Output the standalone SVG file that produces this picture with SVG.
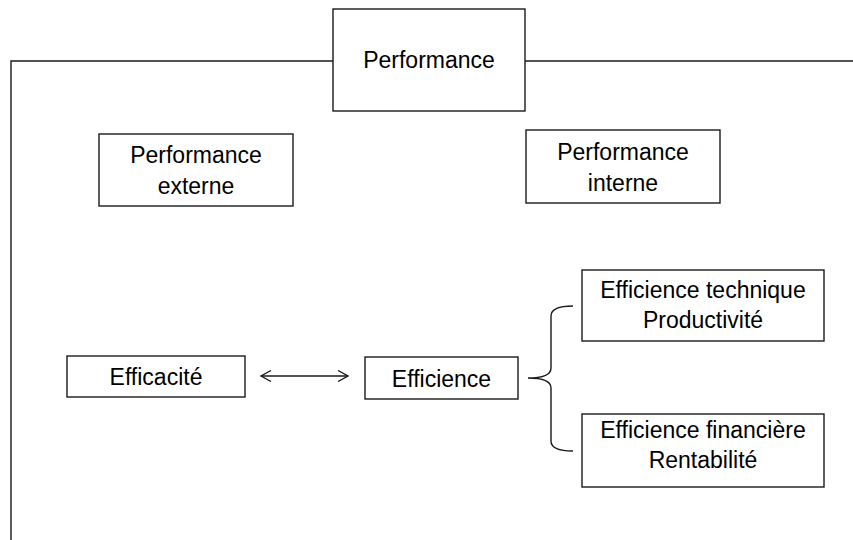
<svg xmlns="http://www.w3.org/2000/svg" width="853" height="540" viewBox="0 0 853 540">
<defs>
<style>
.box{fill:#fff;stroke:#1a1a1a;stroke-width:1.4}
.ln{fill:none;stroke:#1a1a1a;stroke-width:1.4}
text{font-family:"Liberation Sans",Arial,sans-serif;font-size:23px;fill:#000;text-anchor:middle}
</style>
<marker id="chev" viewBox="0 0 12 12" refX="11" refY="6" markerWidth="12" markerHeight="12" markerUnits="userSpaceOnUse" orient="auto-start-reverse">
<path d="M1,0.5 L11,6 L1,11.5" fill="none" stroke="#1a1a1a" stroke-width="1.3"/>
</marker>
</defs>
<rect width="853" height="540" fill="#fff"/>
<g id="connectors">
<path class="ln" d="M333,61 H11 V540"/>
<path class="ln" d="M525,61 H853"/>
<path class="ln" d="M261,376 H348" marker-start="url(#chev)" marker-end="url(#chev)"/>
<path class="ln" d="M573,306 Q551,306 551,316 L551,368 Q551,378 528,378 Q551,378 551,388 L551,441 Q551,451 573,451"/>
</g>
<g id="performance">
<rect class="box" x="333" y="9" width="192" height="102"/>
<text x="429" y="68">Performance</text>
</g>
<g id="perf-externe">
<rect class="box" x="99" y="134" width="194" height="72"/>
<text x="196" y="163">Performance</text>
<text x="196" y="194">externe</text>
</g>
<g id="perf-interne">
<rect class="box" x="526" y="130" width="194" height="73"/>
<text x="623" y="160">Performance</text>
<text x="623" y="191">interne</text>
</g>
<g id="efficacite">
<rect class="box" x="67" y="356" width="178" height="41"/>
<text x="156" y="385">Efficacité</text>
</g>
<g id="efficience">
<rect class="box" x="365" y="357" width="153" height="42"/>
<text x="441.5" y="387">Efficience</text>
</g>
<g id="eff-technique">
<rect class="box" x="582" y="270" width="242" height="71"/>
<text x="703" y="298">Efficience technique</text>
<text x="703" y="328">Productivité</text>
</g>
<g id="eff-financiere">
<rect class="box" x="582" y="414" width="242" height="73"/>
<text x="703" y="438">Efficience financière</text>
<text x="703" y="468">Rentabilité</text>
</g>
</svg>
